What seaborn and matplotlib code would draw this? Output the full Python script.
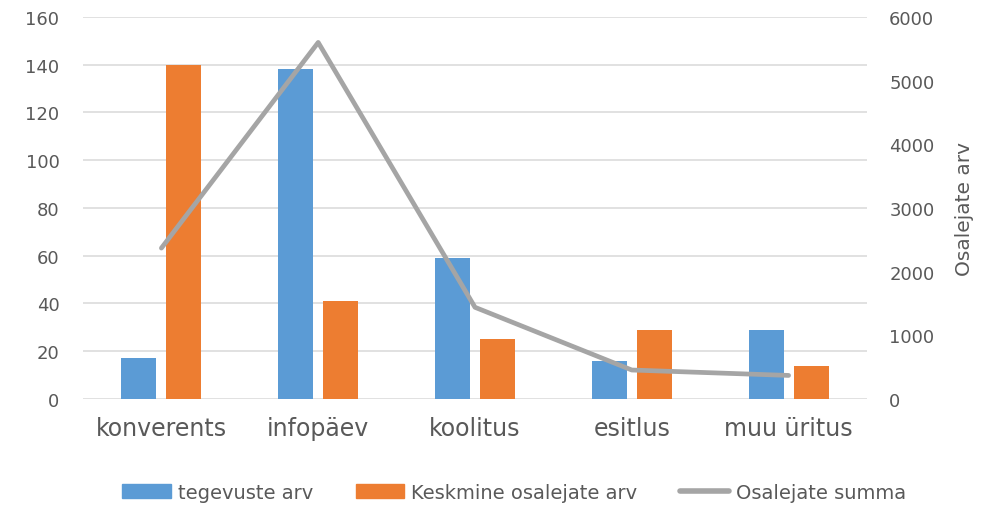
import pandas as pd
import seaborn as sns
from matplotlib import pyplot as plt
from matplotlib.patches import Patch
from matplotlib.lines import Line2D

categories = ["konverents", "infopäev", "koolitus", "esitlus", "muu üritus"]
tegevuste_arv = [17, 138, 59, 16, 29]
keskmine_osalejate = [140, 41, 25, 29, 14]
osalejate_summa = [2370, 5600, 1440, 455, 370]

series_names = ["tegevuste arv", "Keskmine osalejate arv"]
line_name = "Osalejate summa"

BLUE, ORANGE, GREY = "#5B9BD5", "#ED7D31", "#A5A5A5"
TEXT = "#595959"

sns.set_style("white")
plt.rcParams["font.family"] = ["DejaVu Sans"]

df = pd.DataFrame({
    "kategooria": categories * 2,
    "sari": [series_names[0]] * 5 + [series_names[1]] * 5,
    "väärtus": tegevuste_arv + keskmine_osalejate,
})

fig = plt.figure(figsize=(10, 5.06), dpi=100)
ax = fig.add_axes([0.083, 0.2095, 0.784, 0.755])

sns.barplot(data=df, x="kategooria", y="väärtus", hue="sari",
            palette=[BLUE, ORANGE], width=0.574, gap=0.22, saturation=1,
            order=categories, ax=ax, legend=False, linewidth=0)

ax2 = ax.twinx()
sns.lineplot(x=categories, y=osalejate_summa, sort=False, color=GREY,
             linewidth=3.4, ax=ax2)

ax.set_xlim(-0.5, 4.5)
ax.set_ylim(0, 160)
ax.set_yticks(range(0, 161, 20))
ax2.set_ylim(0, 6000)
ax2.set_yticks(range(0, 6001, 1000))

ax.yaxis.grid(True, color="#D9D9D9", linewidth=1.1)
ax.set_axisbelow(True)
for a in (ax, ax2):
    for s in a.spines.values():
        s.set_visible(False)
    a.tick_params(length=0, colors=TEXT)
ax.tick_params(axis="y", labelsize=13, pad=17)
ax.tick_params(axis="x", labelsize=17, pad=12)
ax2.tick_params(axis="y", labelsize=13, pad=16)
ax.set_xlabel("")
ax.set_ylabel("")
ax2.set_ylabel("Osalejate arv", fontsize=14.5, color=TEXT, labelpad=15)

handles = [Patch(color=BLUE), Patch(color=ORANGE),
           Line2D([], [], color=GREY, linewidth=4)]
fig.legend(handles, series_names + [line_name], loc="center",
           bbox_to_anchor=(0.514, 0.025), ncol=3, frameon=False,
           fontsize=14, labelcolor=TEXT, handlelength=2.5,
           handletextpad=0.35, columnspacing=2.2)

fig.savefig("out.png", dpi=100)
